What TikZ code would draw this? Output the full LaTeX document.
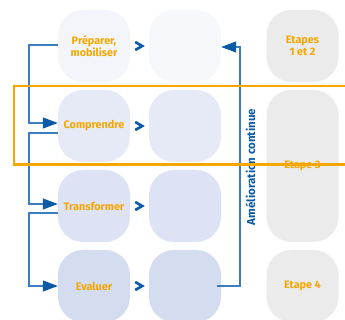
\documentclass[tikz,border=0pt]{standalone}
\usepackage{fontspec}
\setmainfont{Fira Sans}
\usetikzlibrary{arrows.meta,calc}
\definecolor{orangeT}{HTML}{F5A700}
\definecolor{lineblue}{HTML}{3A7DC0}
\definecolor{darkblue}{HTML}{0B5AA6}
\definecolor{rowA}{HTML}{F3F5FB}
\definecolor{rowB}{HTML}{E6E9F6}
\definecolor{rowC}{HTML}{DDE2F4}
\definecolor{rowD}{HTML}{D4DCEF}
\definecolor{greyBox}{HTML}{EBEBEB}
\tikzset{
  box/.style={minimum width=72pt,minimum height=72pt,inner sep=0pt,rounded corners=25pt,
    align=center,text=orangeT,font=\fontsize{10.8}{12.5}\selectfont\bfseries},
  flow/.style={lineblue,line width=1.1pt,-{Triangle[length=15pt,width=11pt,color=darkblue]}},
  chev/.style={darkblue,line width=2.6pt,miter limit=10},
}
\begin{document}
\begin{tikzpicture}[x=1pt,y=-1pt]
\useasboundingbox (0,0) rectangle (345,320);
\clip (0,0) rectangle (345,320);
% boxes
\node[box,fill=rowA] (p1) at (94,46) {Préparer,\\mobiliser};
\node[box,fill=rowA!70!white] (p2) at (185,46) {};
\node[box,fill=greyBox] (e12) at (302.5,46) {Etapes\\1 et 2};
\node[box,fill=rowB] (c1) at (94,126) {Comprendre};
\node[box,fill=rowB] (c2) at (185,126) {};
\node[box,fill=greyBox,minimum height=152pt] (e3) at (302.5,166) {Etape 3};
\node[box,fill=rowC] (t1) at (94,206) {Transformer};
\node[box,fill=rowC] (t2) at (185,206) {};
\node[box,fill=rowD] (v1) at (94,286) {Evaluer};
\node[box,fill=rowD] (v2) at (185,286) {};
\node[box,fill=greyBox] (e4) at (302.5,286) {Etape 4};
% chevrons
\foreach \n in {p1,c1,t1,v1}{
  \draw[chev] ($(\n.east)+(5,-4)$) -- ($(\n.east)+(12,0)$) -- ($(\n.east)+(5,4)$);
}
% left flow
\coordinate (l1) at (29,45);
\draw[flow] ($(p1.west)+(0,-1)$) -- (l1) |- ($(c1.west)+(0,-3)$);
\draw[flow] ($(c1.west)+(0,7)$) -- (29,133) |- ($(t1.west)+(0,-2)$);
\draw[flow] ($(t1.west)+(0,7)$) -- (29,213) |- (v1.west);
% right loop
\coordinate (r1) at (240,286);
\draw[lineblue,line width=1.1pt,-{Triangle[length=15pt,width=11pt,color=darkblue]}]
  ($(v2.east)+(-4,0)$) -- (r1) |- ($(p2.east)+(0,1)$);
\node[rotate=90,text=darkblue,font=\fontsize{11.5}{13}\selectfont\bfseries] (am) at (250.5,167) {Amélioration continue};
% orange frame
\draw[orangeT,line width=2.2pt] (14,86) rectangle (355,164.5);
\end{tikzpicture}
\end{document}
